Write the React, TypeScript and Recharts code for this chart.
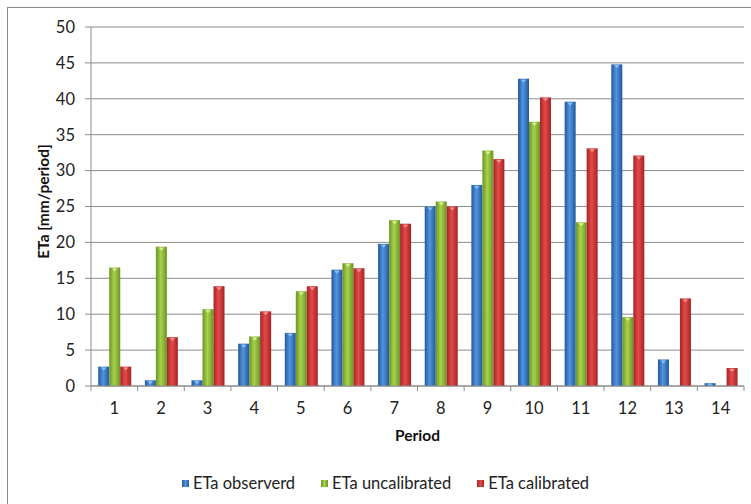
import React from 'react'
import { BarChart, Bar, XAxis, YAxis, CartesianGrid, Legend, Label } from 'recharts'

const PERIODS = ['1', '2', '3', '4', '5', '6', '7', '8', '9', '10', '11', '12', '13', '14']
const OBSERVED = [2.7, 0.8, 0.8, 5.9, 7.4, 16.2, 19.8, 25, 28, 42.8, 39.6, 44.8, 3.7, 0.4]
const UNCALIBRATED = [16.5, 19.4, 10.7, 6.9, 13.2, 17.1, 23.1, 25.7, 32.8, 36.8, 22.8, 9.6, 0, 0]
const CALIBRATED = [2.7, 6.8, 13.9, 10.4, 13.9, 16.4, 22.6, 25, 31.6, 40.2, 33.1, 32.1, 12.2, 2.5]
const Y_TICKS = [0, 5, 10, 15, 20, 25, 30, 35, 40, 45, 50]

const SERIES = [
  { key: 'observed', name: 'ETa observerd', id: 'gBlue', edge: '#24589a', mid: '#5294e0', tip: '#9cc6f5' },
  { key: 'uncalibrated', name: 'ETa uncalibrated', id: 'gGreen', edge: '#6a9426', mid: '#a8d24c', tip: '#e2f5a0' },
  { key: 'calibrated', name: 'ETa calibrated', id: 'gRed', edge: '#a42424', mid: '#e44a4a', tip: '#f7a0a0' },
]

const data = PERIODS.map((p, i) => ({
  period: p,
  observed: OBSERVED[i],
  uncalibrated: UNCALIBRATED[i],
  calibrated: CALIBRATED[i],
}))

const W = 751
const H = 504
const LEFT = 91
const RIGHT = 7
const BAND = (W - LEFT - RIGHT) / PERIODS.length
const GRID = '#8c8c8c'
const FONT = 'Lato, "Open Sans", sans-serif'

const makeShape = (s: (typeof SERIES)[number]) => (props: any) => {
  const { x, y, width, height } = props
  if (!height || height <= 0) return <g />
  const tw = Math.min(width * 0.5, 6)
  const cx = x + width / 2
  return (
    <g>
      <rect x={x} y={y} width={width} height={height} fill={`url(#${s.id})`} />
      {height > 2 && (
        <polygon points={`${cx - tw / 2},${y + 1} ${cx + tw / 2},${y + 1} ${cx},${y + Math.min(4, height)}`} fill={s.tip} opacity={0.85} />
      )}
    </g>
  )
}

const XTick = (props: any) => {
  const { x, y, payload, index } = props
  return (
    <g>
      <line x1={x - BAND / 2} y1={y} x2={x - BAND / 2} y2={y + 5} stroke={GRID} />
      {index === PERIODS.length - 1 && <line x1={x + BAND / 2} y1={y} x2={x + BAND / 2} y2={y + 5} stroke={GRID} />}
      <text x={x} y={y + 28} textAnchor="middle" fontSize={16.5} fill="#222" fontFamily={FONT}>
        {payload.value}
      </text>
    </g>
  )
}

const LegendContent = () => (
  <div style={{ display: 'flex', justifyContent: 'center', gap: 26, fontFamily: FONT, fontSize: 16.5, color: '#222', paddingLeft: 27 }}>
    {SERIES.map((s) => (
      <div key={s.key} style={{ display: 'flex', alignItems: 'center' }}>
        <span style={{ display: 'inline-block', width: 7, height: 7, marginRight: 4, background: `linear-gradient(90deg, ${s.edge}, ${s.mid}, ${s.edge})` }} />
        <span>{s.name}</span>
      </div>
    ))}
  </div>
)

export default function App() {
  return (
    <div style={{ position: 'fixed', left: 0, top: 0, width: W, height: H, background: '#fff' }}>
      <div style={{ position: 'absolute', left: 7, top: 7, width: W - 7, height: H - 7, borderTop: '1px solid #8a8a8a', borderLeft: '1px solid #8a8a8a', boxSizing: 'border-box' }} />
      <div style={{ position: 'absolute', left: 0, top: 0 }}>
        <BarChart
          width={W}
          height={H}
          data={data}
          margin={{ top: 27, right: RIGHT, bottom: 11, left: 0 }}
          barCategoryGap="15.5%"
          barGap={0}
        >
          <defs>
            {SERIES.map((s) => (
              <linearGradient key={s.id} id={s.id} x1="0" y1="0" x2="1" y2="0">
                <stop offset="0%" stopColor={s.edge} />
                <stop offset="45%" stopColor={s.mid} />
                <stop offset="100%" stopColor={s.edge} />
              </linearGradient>
            ))}
          </defs>
          <CartesianGrid vertical={false} stroke={GRID} />
          <XAxis
            dataKey="period"
            height={87}
            stroke={GRID}
            tickLine={false}
            tickSize={0}
            tickMargin={0}
            interval={0}
            tick={<XTick />}
          >
            <Label value="Period" position="insideBottom" offset={32} style={{ fontWeight: 700, fontSize: 15.5, fill: '#111', fontFamily: FONT }} />
          </XAxis>
          <YAxis
            width={LEFT}
            domain={[0, 50]}
            ticks={Y_TICKS}
            interval={0}
            stroke={GRID}
            tickSize={6}
            tickMargin={10}
            tick={{ fontSize: 16.5, fill: '#222', fontFamily: FONT }}
          >
            <Label
              content={(p: any) => {
                const vb = p.viewBox
                const cx = 43
                const cy = vb.y + vb.height / 2 - 5
                return (
                  <text x={cx} y={cy} transform={`rotate(-90 ${cx} ${cy})`} textAnchor="middle" dominantBaseline="central" fontSize={15.5} fontWeight={700} fill="#111" fontFamily={FONT}>
                    ETa [mm/period]
                  </text>
                )
              }}
            />
          </YAxis>
          <Legend verticalAlign="bottom" height={20} content={<LegendContent />} />
          {SERIES.map((s) => (
            <Bar key={s.key} dataKey={s.key} name={s.name} fill={s.mid} shape={makeShape(s)} isAnimationActive={false} />
          ))}
        </BarChart>
      </div>
    </div>
  )
}
